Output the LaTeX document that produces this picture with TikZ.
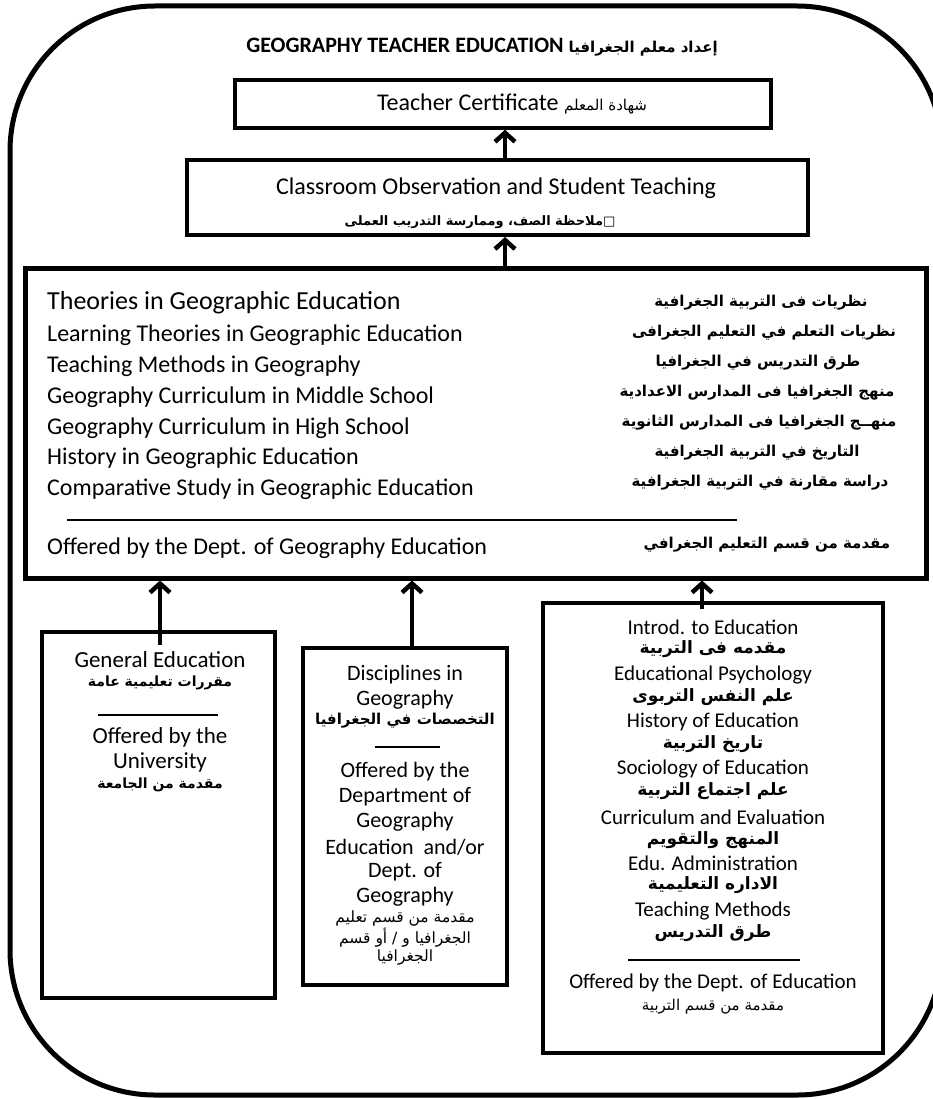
\documentclass[tikz,border=0pt]{standalone}
\usepackage{fontspec}
\setmainfont{Carlito}
\newfontfamily\arabicfont[Script=Arabic]{DejaVu Sans}
\TeXXeTstate=1
\usetikzlibrary{arrows.meta}
\newcommand{\artxt}[1]{{\arabicfont\beginR #1\endR}}
\newcommand{\fsz}[1]{\fontsize{#1}{#1}\selectfont}

\tikzset{
  box/.style={draw, line width=4pt, inner sep=0pt},
  uparrow/.style={line width=4.5pt, -{Straight Barb[length=9pt,width=20pt]}},
  sepline/.style={line width=1.2pt},
  en/.style={anchor=center, inner sep=0pt, font=\fsz{22}},
  ar/.style={anchor=center, inner sep=0pt, font=\fsz{14}\bfseries},
}

\begin{document}
\begin{tikzpicture}[x=1pt,y=-1pt]
\useasboundingbox (0,0) rectangle (933,1099);
\clip (0,0) rectangle (933,1099);
\draw[line width=5pt, rounded corners=145pt] (10,6) rectangle (942,1095);

% title
\node[anchor=center, font=\fsz{22}\bfseries] (title) at (482,47) {GEOGRAPHY TEACHER EDUCATION \artxt{\fsz{15}إعداد معلم الجغرافيا}};

% top boxes
\node[box, line width=3.5pt, minimum width=536pt, minimum height=48pt] (cert) at (503,104) {};
\node[en, font=\fsz{24}] (certtxt) at (512,104) {Teacher Certificate \artxt{\fsz{15}شهادة المعلم}};
\node[box, minimum width=621pt, minimum height=75pt] (cls) at (497.5,197.5) {};
\node[en, font=\fsz{24}] (cls1) at (496,188) {Classroom Observation and Student Teaching};
\node[ar, font=\fsz{13}\bfseries] (cls2) at (480,222) {\artxt{□ملاحظة الصف، وممارسة التدريب العملى}};

% big box
\node[box, line width=5pt, minimum width=901pt, minimum height=310pt] (big) at (475.5,423) {};
\node[en, anchor=west, font=\fsz{26}] (th1) at (47,303) {Theories in Geographic Education};
\node[en, anchor=west, font=\fsz{24}] (th2) at (47,335) {Learning Theories in Geographic Education};
\node[en, anchor=west, font=\fsz{24}] (th3) at (47,366) {Teaching Methods in Geography};
\node[en, anchor=west, font=\fsz{24}] (th4) at (47,397) {Geography Curriculum in Middle School};
\node[en, anchor=west, font=\fsz{24}] (th5) at (47,428) {Geography Curriculum in High School};
\node[en, anchor=west, font=\fsz{24}] (th6) at (47,458) {History in Geographic Education};
\node[en, anchor=west, font=\fsz{24}] (th7) at (47,489) {Comparative Study in Geographic Education};
\node[en, anchor=west, font=\fsz{24}] (thoff) at (47,548) {Offered by the Dept. of Geography Education};
\node[ar, font=\fsz{15}\bfseries] (ar1) at (761,303) {\artxt{نظريات فى التربية الجغرافية}};
\node[ar, font=\fsz{15}\bfseries] (ar2) at (764,333) {\artxt{نظريات التعلم في التعليم الجغرافى}};
\node[ar, font=\fsz{15}\bfseries] (ar3) at (758,363) {\artxt{طرق التدريس في الجغرافيا}};
\node[ar, font=\fsz{15}\bfseries] (ar4) at (757,393) {\artxt{منهج الجغرافيا فى المدارس الاعدادية}};
\node[ar, font=\fsz{15}\bfseries] (ar5) at (759,423) {\artxt{منهــج الجغرافيا فى المدارس الثانوية}};
\node[ar, font=\fsz{15}\bfseries] (ar6) at (757,453) {\artxt{التاريخ في التربية الجغرافية}};
\node[ar, font=\fsz{15}\bfseries] (ar7) at (760,483) {\artxt{دراسة مقارنة في التربية الجغرافية}};
\node[ar, font=\fsz{15}\bfseries] (aroff) at (767,545) {\artxt{مقدمة من قسم التعليم الجغرافي}};
\draw[sepline] (67,520) -- (737,520);

% general education
\node[box, minimum width=233pt, minimum height=366pt] (gen) at (158.5,815) {};
\node[en, font=\fsz{23}] (gen1) at (160,660) {General Education};
\node[ar] (gen2) at (160,683) {\artxt{مقررات تعليمية عامة}};
\draw[sepline] (98,715) -- (218,715);
\node[en, font=\fsz{23}] (gen3) at (160,737) {Offered by the};
\node[en, font=\fsz{23}] (gen4) at (160,762) {University};
\node[ar] (gen5) at (160,785) {\artxt{مقدمة من الجامعة}};

% disciplines
\node[box, minimum width=204pt, minimum height=337pt] (dis) at (405,816.5) {};
\node[en] (dis1) at (405,675) {Disciplines in};
\node[en] (dis2) at (405,700) {Geography};
\node[ar, font=\fsz{15}\bfseries] (dis3) at (405,721) {\artxt{التخصصات في الجغرافيا}};
\draw[sepline] (375,747) -- (440,747);
\node[en] (dis4) at (405,772) {Offered by the};
\node[en] (dis5) at (405,797) {Department of};
\node[en] (dis6) at (405,822) {Geography};
\node[en] (dis7) at (405,847) {Education\ \ and/or};
\node[en] (dis8) at (405,872) {Dept. of};
\node[en] (dis9) at (405,897) {Geography};
\node[ar, font=\fsz{15.5}] (dis10) at (405,918) {\artxt{مقدمة من قسم تعليم}};
\node[ar, font=\fsz{15.5}] (dis11) at (405,938) {\artxt{الجغرافيا و / أو قسم}};
\node[ar, font=\fsz{15.5}] (dis12) at (405,957) {\artxt{الجغرافيا}};

% education courses
\node[box, minimum width=340pt, minimum height=450pt] (edu) at (713,828) {};
\node[en, font=\fsz{21}] (edu1) at (713,627) {Introd. to Education};
\node[ar, font=\fsz{17}\bfseries] (edu2) at (713,649) {\artxt{مقدمه فى التربية}};
\node[en, font=\fsz{21}] (edu3) at (713,675) {Educational Psychology};
\node[ar, font=\fsz{17}\bfseries] (edu4) at (713,697) {\artxt{علم النفس التربوى}};
\node[en, font=\fsz{21}] (edu5) at (713,722) {History of Education};
\node[ar, font=\fsz{17}\bfseries] (edu6) at (713,744) {\artxt{تاريخ التربية}};
\node[en, font=\fsz{21}] (edu7) at (713,769) {Sociology of Education};
\node[ar, font=\fsz{17}\bfseries] (edu8) at (713,791) {\artxt{علم اجتماع التربية}};
\node[en, font=\fsz{21}] (edu9) at (713,817) {Curriculum and Evaluation};
\node[ar, font=\fsz{17}\bfseries] (edu10) at (713,840) {\artxt{المنهج والتقويم}};
\node[en, font=\fsz{21}] (edu11) at (713,863) {Edu. Administration};
\node[ar, font=\fsz{17}\bfseries] (edu12) at (713,885) {\artxt{الاداره التعليمية}};
\node[en, font=\fsz{21}] (edu13) at (713,911) {Teaching Methods};
\node[ar, font=\fsz{17}\bfseries] (edu14) at (713,933) {\artxt{طرق التدريس}};
\draw[sepline] (628,960) -- (800,960);
\node[en, font=\fsz{21}] (edu15) at (713,983) {Offered by the Dept. of Education};
\node[ar, font=\fsz{15}] (edu16) at (713,1007) {\artxt{مقدمة من قسم التربية}};

% arrows
\coordinate (ax0) at (505,0);
\coordinate (ax1) at (160,0);
\coordinate (ax2) at (412,0);
\coordinate (ax3) at (702,0);
\draw[uparrow] (cls.north -| ax0) -- (cert.south -| ax0);
\draw[uparrow] (big.north -| ax0) -- (cls.south -| ax0);
\draw[uparrow] (gen.north -| ax1) ++(0,15) -- (big.south -| ax1);
\draw[uparrow] (dis.north -| ax2) -- (big.south -| ax2);
\draw[uparrow] (edu.north -| ax3) ++(0,8) -- (big.south -| ax3);
\end{tikzpicture}
\end{document}
